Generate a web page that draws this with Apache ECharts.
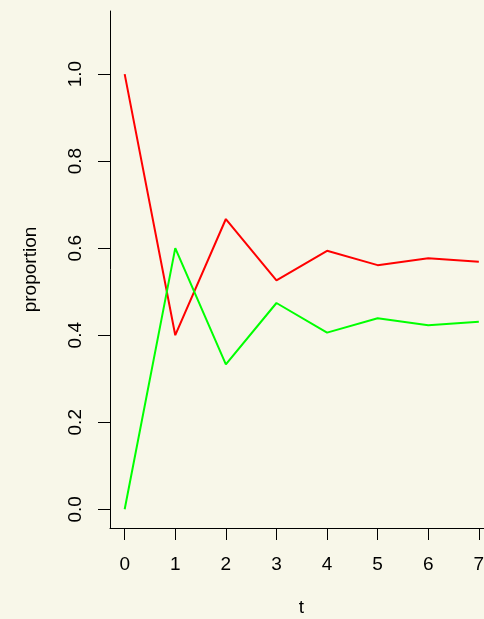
<!DOCTYPE html>
<html>
<head>
<meta charset="utf-8">
<script src="https://cdn.jsdelivr.net/npm/echarts@6/dist/echarts.min.js"></script>
<style>
  html, body { margin: 0; padding: 0; background: #f8f7e9; }
  #chart { width: 484px; height: 619px; }
</style>
</head>
<body>
<div id="chart"></div>
<script>
// time steps and the two proportions
const steps = [0, 1, 2, 3, 4, 5, 6, 7];
const redValues = [1.0, 0.4, 0.667, 0.526, 0.594, 0.561, 0.577, 0.569];
const greenValues = [0.0, 0.6, 0.333, 0.474, 0.406, 0.439, 0.423, 0.431];
const yTicks = [0, 0.2, 0.4, 0.6, 0.8, 1.0];
const xTicks = [0, 1, 2, 3, 4, 5, 6, 7];

const font = "Liberation Sans, Arial, Helvetica, sans-serif";
const chart = echarts.init(document.getElementById("chart"));

chart.setOption({
  backgroundColor: "#f8f7e9",
  animation: false,
  grid: {
    left: 110, top: 11, width: 383, height: 517,
    containLabel: false,
    outerBoundsMode: "none"
  },
  xAxis: {
    type: "value",
    min: -0.29,
    max: 7.28,
    name: "t",
    nameLocation: "middle",
    nameGap: 70,
    nameTextStyle: { fontFamily: font, fontSize: 19, color: "#000" },
    axisLine: { show: true, onZero: false, lineStyle: { color: "#000", width: 1 } },
    axisTick: { show: true, length: 12, customValues: xTicks, lineStyle: { color: "#000" } },
    axisLabel: {
      customValues: xTicks,
      margin: 27,
      fontFamily: font,
      fontSize: 19,
      color: "#000"
    },
    splitLine: { show: false }
  },
  yAxis: {
    type: "value",
    min: -0.043,
    max: 1.145,
    name: "proportion",
    nameLocation: "middle",
    nameRotate: 90,
    nameGap: 70,
    nameTextStyle: { fontFamily: font, fontSize: 19, color: "#000" },
    axisLine: { show: true, onZero: false, lineStyle: { color: "#000", width: 1 } },
    axisTick: { show: true, length: 12, customValues: yTicks, lineStyle: { color: "#000" } },
    axisLabel: {
      customValues: yTicks,
      rotate: 90,
      margin: 25,
      fontFamily: font,
      fontSize: 19,
      color: "#000",
      formatter: v => v.toFixed(1)
    },
    splitLine: { show: false }
  },
  series: [
    {
      name: "red",
      type: "line",
      data: steps.map((t, i) => [t, redValues[i]]),
      showSymbol: false,
      lineStyle: { color: "#ff0000", width: 2 },
      itemStyle: { color: "#ff0000" }
    },
    {
      name: "green",
      type: "line",
      data: steps.map((t, i) => [t, greenValues[i]]),
      showSymbol: false,
      lineStyle: { color: "#00ff00", width: 2 },
      itemStyle: { color: "#00ff00" }
    }
  ]
});
</script>
</body>
</html>
